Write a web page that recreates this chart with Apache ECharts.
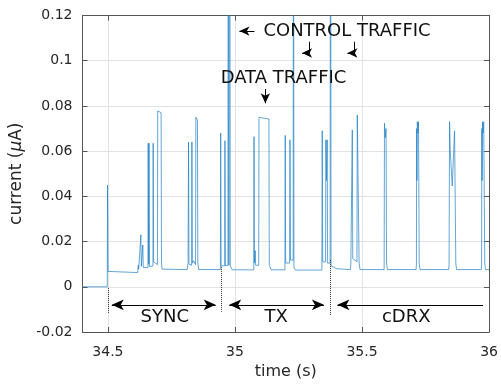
<!DOCTYPE html>
<html>
<head>
<meta charset="utf-8">
<script src="https://cdn.jsdelivr.net/npm/echarts@6/dist/echarts.min.js"></script>
<style>
  html, body { margin: 0; padding: 0; background: #fff; }
  #chart { width: 501px; height: 385px; }
</style>
</head>
<body>
<div id="chart"></div>
<script>
// Current trace: time (s) and current (uA)
const times = [
  34.400, 34.4975, 34.4985, 34.4995, 34.5005, 34.503, 34.617, 34.6195, 34.621, 34.6285,
  34.6297, 34.6315, 34.6365, 34.6375, 34.639, 34.645, 34.6575, 34.6586, 34.6605, 34.6618,
  34.6635, 34.670, 34.6772, 34.6781, 34.680, 34.685, 34.695, 34.6961, 34.7094, 34.7108,
  34.713, 34.812, 34.8155, 34.8172, 34.819, 34.8295, 34.8305, 34.8322, 34.8375, 34.845,
  34.8461, 34.8523, 34.854, 34.857, 34.9425, 34.9438, 34.9455, 34.9595, 34.9605, 34.9622,
  34.9725, 34.9734, 34.976, 34.9789, 34.9815, 34.9865, 34.989, 35.074, 35.075, 35.0765,
  35.0795, 35.0815, 35.0935, 35.0945, 35.100, 35.1336, 35.135, 35.1395, 35.142, 35.1965,
  35.1977, 35.1995, 35.215, 35.2164, 35.2185, 35.229, 35.2301, 35.232, 35.238, 35.342,
  35.3434, 35.3452, 35.3565, 35.3578, 35.360, 35.3629, 35.3645, 35.3745, 35.3758, 35.378,
  35.400, 35.454, 35.456, 35.4605, 35.4617, 35.4635, 35.480, 35.4813, 35.4867, 35.4885,
  35.492, 35.587, 35.5883, 35.5915, 35.5945, 35.5965, 35.600, 35.7125, 35.714, 35.715,
  35.716, 35.7175, 35.720, 35.7223, 35.725, 35.728, 35.841, 35.8425, 35.8445, 35.847,
  35.855, 35.861, 35.8641, 35.869, 35.872, 35.969, 35.9705, 35.9715, 35.9725, 35.974,
  35.9765, 35.9789, 35.983, 35.986, 36.000
];
const currents = [
  0, 0, 0.045, 0.028, 0.0068, 0.0063, 0.0063, 0.0095, 0.0078, 0.0082,
  0.023, 0.009, 0.0095, 0.0185, 0.0085, 0.0083, 0.0085, 0.0635, 0.010, 0.0635,
  0.009, 0.0088, 0.0092, 0.0635, 0.011, 0.0105, 0.0098, 0.0778, 0.077, 0.011,
  0.0078, 0.0076, 0.0105, 0.064, 0.010, 0.0095, 0.064, 0.0105, 0.0115, 0.0098,
  0.075, 0.0738, 0.0105, 0.0076, 0.0076, 0.068, 0.0093, 0.0093, 0.0646, 0.0093,
  0.0095, 0.30, 0.0095, 0.30, 0.0093, 0.0090, 0.0075, 0.0075, 0.0664, 0.0105,
  0.016, 0.0095, 0.0095, 0.075, 0.0742, 0.0742, 0.0095, 0.009, 0.0075, 0.0075,
  0.067, 0.0105, 0.0105, 0.065, 0.0118, 0.0118, 0.30, 0.0085, 0.0074, 0.0074,
  0.069, 0.011, 0.011, 0.065, 0.047, 0.065, 0.0105, 0.0105, 0.30, 0.0093,
  0.0080, 0.0076, 0.0105, 0.0100, 0.0694, 0.0125, 0.0110, 0.076, 0.0752, 0.0105,
  0.0076, 0.0076, 0.0723, 0.066, 0.070, 0.0105, 0.0076, 0.0076, 0.0097, 0.070,
  0.047, 0.073, 0.068, 0.073, 0.0105, 0.0076, 0.0076, 0.0097, 0.073, 0.0605,
  0.0446, 0.0446, 0.069, 0.0105, 0.0076, 0.0076, 0.0097, 0.070, 0.047, 0.073,
  0.068, 0.073, 0.0105, 0.0076, 0.0076
];

// Axis ranges and tick labels
const xTicks = [34.5, 35, 35.5, 36];
const xRange = [34.4, 36];
const yRange = [-0.02, 0.12];
const yStep = 0.02;

// Phase annotations along the bottom of the plot
const phaseNames = ['SYNC', 'TX', 'cDRX'];
const phaseCenters = [34.724, 35.162, 35.674];
const phaseBoundaries = [34.5, 34.946, 35.373];

const ink = '#262626';
const font = 'DejaVu Sans';

const series = times.map((t, i) => [t, currents[i]]);

function arrowEnd(coord, size) {
  return { coord: coord, symbol: 'arrow', symbolSize: size };
}
function plainEnd(coord) {
  return { coord: coord, symbol: 'none' };
}
const solid = { type: 'solid', color: '#000', width: 1 };
const dotted = { type: 'dotted', color: '#333', width: 1 };

const bottomY = -0.008;
const bigHead = [8, 12];
const smallHead = [7, 10];
const arrowLines = [
  // SYNC
  [arrowEnd([34.5152, bottomY], bigHead), arrowEnd([34.9242, bottomY], bigHead)],
  // TX
  [arrowEnd([34.9773, bottomY], bigHead), arrowEnd([35.350, bottomY], bigHead)],
  // cDRX
  [arrowEnd([35.4031, bottomY], bigHead), plainEnd([35.9762, bottomY])],
  // control traffic pointer
  [plainEnd([35.0766, 0.1131]), arrowEnd([35.0175, 0.1131], smallHead)],
  // data traffic pointer
  [plainEnd([35.1195, 0.0875]), arrowEnd([35.1195, 0.0812], smallHead)],
  // bent pointers
  [plainEnd([35.2926, 0.1084]), plainEnd([35.2926, 0.1034])],
  [plainEnd([35.2926, 0.1034]), arrowEnd([35.2640, 0.1034], smallHead)],
  [plainEnd([35.4684, 0.1084]), plainEnd([35.4684, 0.1034])],
  [plainEnd([35.4684, 0.1034]), arrowEnd([35.4425, 0.1034], smallHead)]
].map(pair => {
  pair[0].lineStyle = solid;
  return pair;
});

const dottedSpans = [[-0.0005, -0.0116], [0.0088, -0.011], [0.0119, -0.0125]];
const dottedLines = phaseBoundaries.map((x, i) => [
  { coord: [x, dottedSpans[i][0]], symbol: 'none', lineStyle: dotted },
  { coord: [x, dottedSpans[i][1]], symbol: 'none' }
]);

const textItems = phaseNames.map((name, i) => ({
  coord: [phaseCenters[i], -0.0135], value: name
})).concat([
  { coord: [35.441, 0.1128], value: 'CONTROL TRAFFIC' },
  { coord: [35.191, 0.092], value: 'DATA TRAFFIC' }
]);

const chart = echarts.init(document.getElementById('chart'), null, { renderer: 'canvas' });

const tickCommon = { show: true, inside: true, length: 5, lineStyle: { color: '#555', width: 1 } };

chart.setOption({
  animation: false,
  backgroundColor: '#fff',
  grid: { left: 82.5, right: 9.3, top: 15.5, bottom: 53, containLabel: false },
  xAxis: [{
    type: 'value',
    min: xRange[0], max: xRange[1],
    name: 'time (s)',
    nameLocation: 'middle',
    nameGap: 30,
    nameTextStyle: { fontFamily: font, fontSize: 16, color: ink },
    axisLine: { show: true, onZero: false, lineStyle: { color: '#555', width: 1 } },
    axisTick: Object.assign({ customValues: xTicks }, tickCommon),
    axisLabel: {
      customValues: xTicks, margin: 13, fontFamily: font, fontSize: 14, color: ink,
      formatter: v => String(Math.round(v * 10) / 10)
    },
    splitLine: { show: true, lineStyle: { color: '#e3e3e3', width: 1 } }
  }, {
    type: 'value', position: 'top',
    min: xRange[0], max: xRange[1],
    axisLine: { show: true, onZero: false, lineStyle: { color: '#555', width: 1 } },
    axisTick: Object.assign({ customValues: xTicks }, tickCommon),
    axisLabel: { show: false },
    splitLine: { show: false }
  }],
  yAxis: [{
    type: 'value',
    min: yRange[0], max: yRange[1], interval: yStep,
    name: '{a|current (}{mu|μ}{a|A)}',
    nameLocation: 'middle',
    nameGap: 46,
    nameRotate: 90,
    nameTextStyle: {
      rich: {
        a: { fontFamily: font, fontSize: 17, color: ink },
        mu: { fontFamily: font, fontSize: 17, fontStyle: 'italic', color: ink }
      }
    },
    axisLine: { show: true, onZero: false, lineStyle: { color: '#555', width: 1 } },
    axisTick: tickCommon,
    axisLabel: {
      margin: 10, fontFamily: font, fontSize: 14, color: ink,
      formatter: v => String(Math.round(v * 100) / 100)
    },
    splitLine: { show: true, lineStyle: { color: '#e3e3e3', width: 1 } }
  }, {
    type: 'value', position: 'right',
    min: yRange[0], max: yRange[1], interval: yStep,
    axisLine: { show: true, onZero: false, lineStyle: { color: '#555', width: 1 } },
    axisTick: tickCommon,
    axisLabel: { show: false },
    splitLine: { show: false }
  }],
  series: [{
    type: 'line',
    data: series,
    xAxisIndex: 0, yAxisIndex: 0,
    showSymbol: false,
    clip: true,
    lineStyle: { color: '#1f80c6', width: 0.7 },
    markLine: {
      silent: true,
      animation: false,
      label: { show: false },
      emphasis: { disabled: true },
      data: arrowLines.concat(dottedLines)
    },
    markPoint: {
      silent: true,
      symbol: 'circle',
      symbolSize: 0,
      itemStyle: { color: 'transparent' },
      label: {
        show: true, position: 'inside',
        fontFamily: font, fontSize: 18, color: '#111',
        formatter: p => p.value
      },
      data: textItems
    }
  }]
});
</script>
</body>
</html>
